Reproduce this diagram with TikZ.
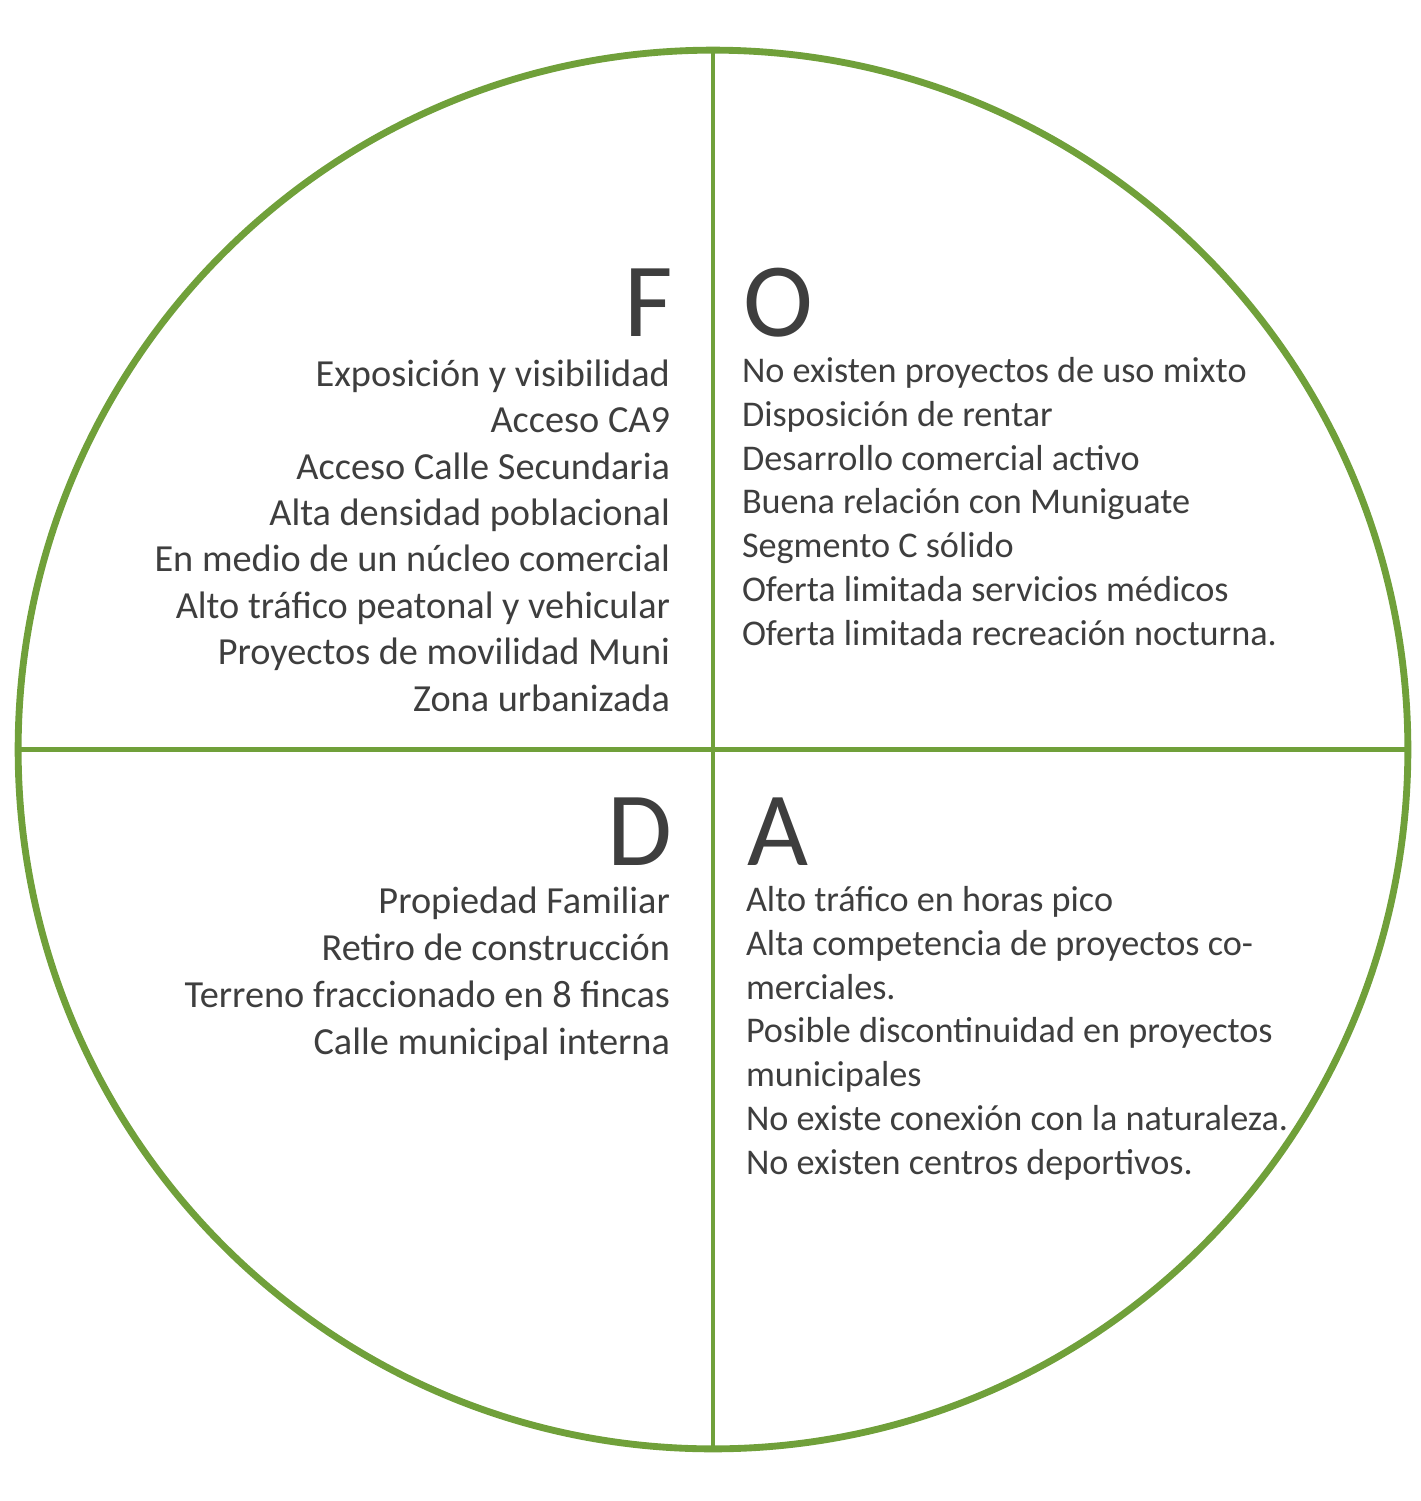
\documentclass[tikz,border=0pt]{standalone}
\usepackage{fontspec}
\setmainfont{Carlito}
\usetikzlibrary{shapes.geometric}
\definecolor{swotgreen}{RGB}{112,160,58}
\definecolor{swotgray}{RGB}{62,62,62}

\begin{document}
\begin{tikzpicture}[
    x=0.02cm, y=-0.02cm,
    every node/.style={text=swotgray, inner sep=0pt, outer sep=0pt},
    letter/.style={font=\fontsize{60}{60}\selectfont},
    leftlist/.style={align=right, anchor=base east, font=\fontsize{21.8}{26.4}\selectfont},
    rightlist/.style={align=left, anchor=base west, font=\fontsize{20.6}{24.9}\selectfont}
]
\useasboundingbox (0,0) rectangle (1420,1501);

\node (ring) [draw=swotgreen, line width=3.9pt, ellipse,
    minimum width=27.8cm, minimum height=27.98cm] at (713,749.5) {};
\draw[swotgreen, line width=2.5pt] (ring.north) -- (ring.south);
\draw[swotgreen, line width=2.5pt] (ring.west) -- (ring.east);

\node (F) [letter, anchor=base east] at (673,336) {F};
\node (O) [letter, anchor=base west] at (743,336) {O};
\node (D) [letter, anchor=base east] at (672,865) {D};
\node (A) [letter, anchor=base west] at (747,865) {A};

% base anchor of a multi-line node sits on its last line
\node (fort) [leftlist] at (670,711) {Exposición y visibilidad\\
    Acceso CA9\\
    Acceso Calle Secundaria\\
    Alta densidad poblacional\\
    En medio de un núcleo comercial\\
    Alto tráfico peatonal y vehicular\\
    Proyectos de movilidad Muni\\
    Zona urbanizada};

\node (opor) [rightlist] at (742,645) {No existen proyectos de uso mixto\\
    Disposición de rentar\\
    Desarrollo comercial activo\\
    Buena relación con Muniguate\\
    Segmento C sólido\\
    Oferta limitada servicios médicos\\
    Oferta limitada recreación nocturna.};

\node (debil) [leftlist, font=\fontsize{21.8}{26.6}\selectfont] at (670,1054) {Propiedad Familiar\\
    Retiro de construcción\\
    Terreno fraccionado en 8 fincas\\
    Calle municipal interna};

\node (amen) [rightlist] at (746,1174) {Alto tráfico en horas pico\\
    Alta competencia de proyectos co-\\
    merciales.\\
    Posible discontinuidad en proyectos\\
    municipales\\
    No existe conexión con la naturaleza.\\
    No existen centros deportivos.};
\end{tikzpicture}
\end{document}
